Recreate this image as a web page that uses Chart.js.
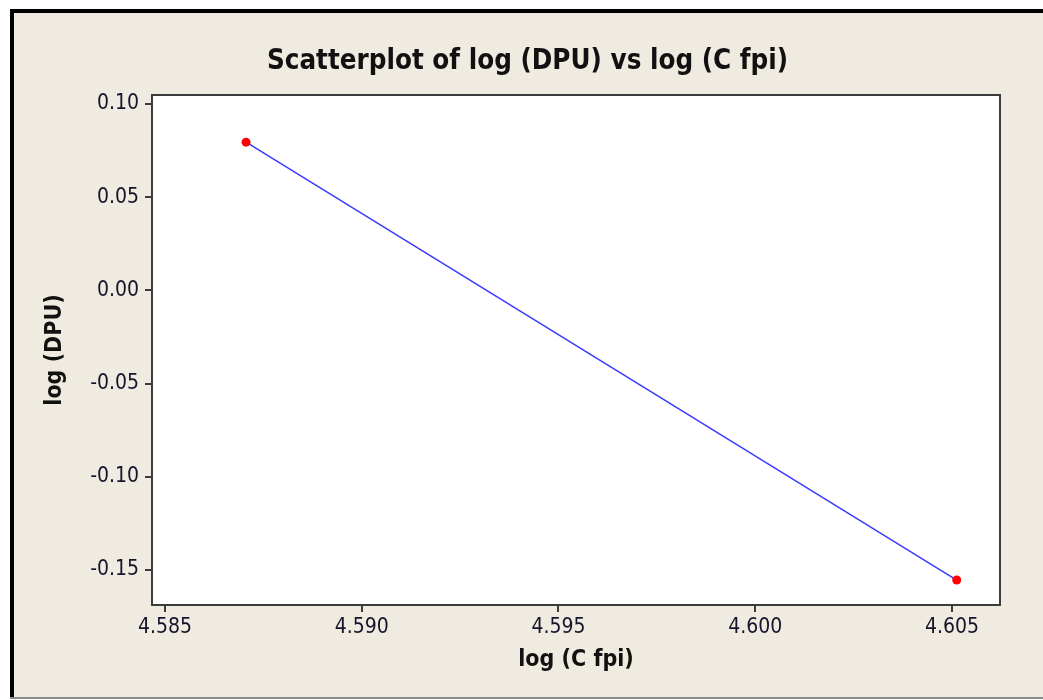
<!DOCTYPE html>
<html>
<head>
<meta charset="utf-8">
<title>Scatterplot of log (DPU) vs log (C fpi)</title>
<script src="https://cdn.jsdelivr.net/npm/chart.js@4.4.1/dist/chart.umd.min.js"></script>
<style>
  html, body { margin: 0; padding: 0; background: #ffffff; }
  #wrap { width: 1043px; height: 700px; }
</style>
</head>
<body>
<div id="wrap"><canvas id="scatter" width="1043" height="700"></canvas></div>
<script>
'use strict';

/* ─────────────────────────────────────────────────
   DATA
───────────────────────────────────────────────── */
const logCfpi = [4.58706, 4.60512];
const logDPU  = [0.0795, -0.1554];

const xTicks = [4.585, 4.590, 4.595, 4.600, 4.605];
const yTicks = [-0.15, -0.10, -0.05, 0.00, 0.05, 0.10];

const TITLE  = 'Scatterplot of log (DPU) vs log (C fpi)';
const XLABEL = 'log (C fpi)';
const YLABEL = 'log (DPU)';

/* ─────────────────────────────────────────────────
   STYLE
───────────────────────────────────────────────── */
const FONT     = "'DejaVu Sans Condensed', 'DejaVu Sans', sans-serif";
const PANEL_BG = '#f0ebe1';
const INK      = '#14142a';
const AXIS     = '#3c3c3c';

// Beige panel with a black frame, plus the box round the plot area
const framePlugin = {
  id: 'frame',
  beforeDraw(chart) {
    const { ctx, width, height } = chart;
    ctx.save();
    ctx.fillStyle = '#ffffff';
    ctx.fillRect(0, 0, width, height);
    ctx.fillStyle = PANEL_BG;
    ctx.fillRect(10, 9, width - 10, height - 11);
    ctx.fillStyle = '#000000';
    ctx.fillRect(10, 9, width - 10, 4);   // top
    ctx.fillRect(10, 9, 4, height - 11);  // left
    ctx.fillStyle = '#8a8a8a';
    ctx.fillRect(10, height - 3, width - 10, 2); // bottom
    ctx.restore();
  },
  beforeDatasetsDraw(chart) {
    const { ctx, chartArea: a } = chart;
    ctx.save();
    ctx.fillStyle = '#ffffff';
    ctx.fillRect(a.left, a.top, a.right - a.left, a.bottom - a.top);
    ctx.restore();
  },
  afterDatasetsDraw(chart) {
    const { ctx, chartArea: a } = chart;
    ctx.save();
    ctx.strokeStyle = AXIS;
    ctx.lineWidth = 2;
    ctx.strokeRect(a.left, a.top, a.right - a.left, a.bottom - a.top);
    ctx.restore();
  },
};

/* ─────────────────────────────────────────────────
   CHART
───────────────────────────────────────────────── */
(function initScatter() {
  const ctx = document.getElementById('scatter');

  new Chart(ctx, {
    type: 'scatter',
    data: {
      datasets: [{
        data: logCfpi.map((x, i) => ({ x, y: logDPU[i] })),
        showLine: true,
        borderColor: '#3a3aff',
        borderWidth: 1.5,
        pointRadius: 4.5,
        pointBackgroundColor: '#ff0000',
        pointBorderColor: '#ff0000',
        pointBorderWidth: 0,
        clip: false,
      }],
    },
    options: {
      responsive: false,
      devicePixelRatio: 1,
      animation: false,
      layout: { padding: { left: 12, right: 0, top: 0, bottom: 0 } },
      plugins: {
        legend: { display: false },
        tooltip: { enabled: false },
        title: {
          display: true,
          text: TITLE,
          color: '#111111',
          font: { family: FONT, size: 27.5, weight: 'bold', lineHeight: 1.2 },
          padding: { top: 45, bottom: 17 },
        },
      },
      scales: {
        x: {
          type: 'linear',
          min: 4.58467,
          max: 4.60622,
          afterBuildTicks: s => { s.ticks = xTicks.map(v => ({ value: v })); },
          afterFit: s => { s.height = 95; },
          ticks: {
            color: INK,
            padding: 3,
            maxRotation: 0,
            font: { family: FONT, size: 21 },
            callback: v => v.toFixed(3),
          },
          grid: { display: true, drawOnChartArea: false, drawTicks: true, tickLength: 7, color: AXIS, lineWidth: 2 },
          border: { display: true, color: AXIS, width: 2 },
          title: {
            display: true,
            text: XLABEL,
            color: '#111111',
            font: { family: FONT, size: 23, weight: 'bold', lineHeight: 1.2 },
            padding: { top: 0, bottom: 26 },
          },
        },
        y: {
          type: 'linear',
          min: -0.1688,
          max: 0.1048,
          afterBuildTicks: s => { s.ticks = yTicks.map(v => ({ value: v })); },
          afterFit: s => { s.width = 140; },
          ticks: {
            color: INK,
            padding: 6,
            font: { family: FONT, size: 21 },
            callback: v => v.toFixed(2),
          },
          grid: { display: true, drawOnChartArea: false, drawTicks: true, tickLength: 7, color: AXIS, lineWidth: 2 },
          border: { display: true, color: AXIS, width: 2 },
          title: {
            display: true,
            text: YLABEL,
            color: '#111111',
            font: { family: FONT, size: 23, weight: 'bold', lineHeight: 1.2 },
            padding: { top: 29, bottom: 0 },
          },
        },
        // empty right-hand strip so the plot box stops at x = 1000
        yRight: {
          type: 'linear',
          position: 'right',
          display: true,
          afterFit: s => { s.width = 43; },
          ticks: { display: false },
          grid: { display: false },
          border: { display: false },
        },
      },
    },
    plugins: [framePlugin],
  });
})();
</script>
</body>
</html>
